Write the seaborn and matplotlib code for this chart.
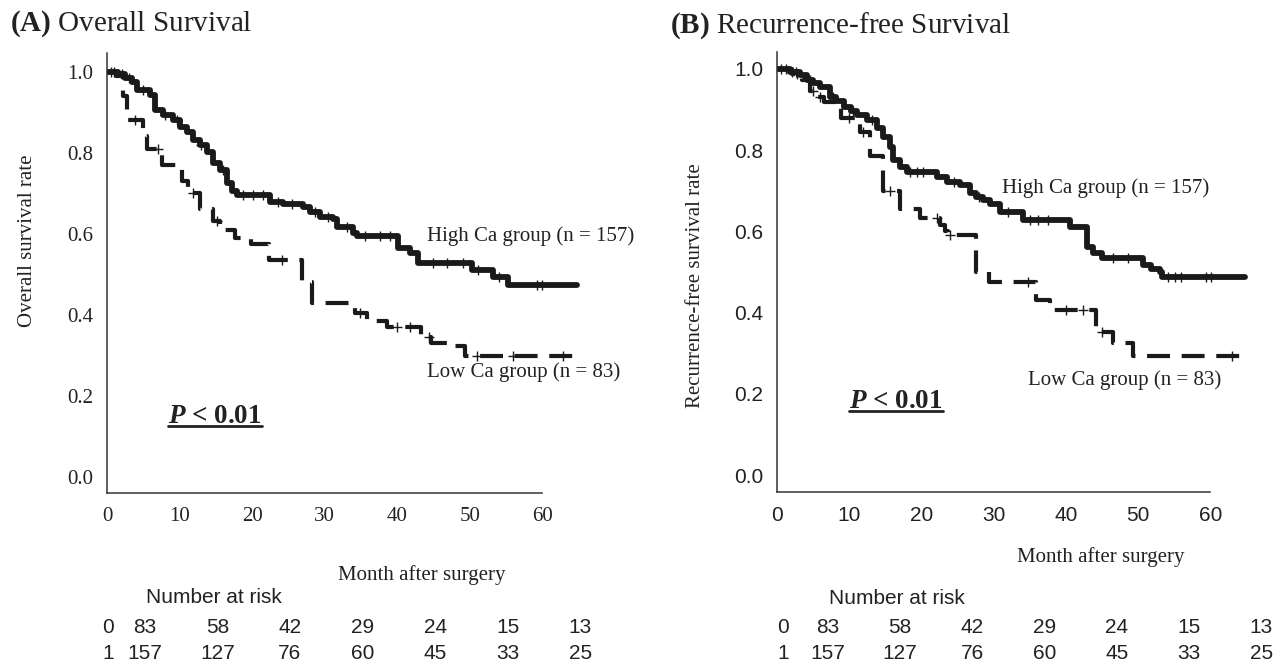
"""
Kaplan-Meier curves: overall and recurrence-free survival by Ca group
"""
import matplotlib
matplotlib.use('Agg')
import matplotlib.pyplot as plt
import matplotlib.transforms as mtransforms
from matplotlib.lines import Line2D
import seaborn as sns
import numpy as np

# ---- data ----
months = [0, 10, 20, 30, 40, 50, 60]
risk_low = [83, 58, 42, 29, 24, 15, 13]
risk_high = [157, 127, 76, 60, 45, 33, 25]

# (A) overall survival
os_high_t = [0, 1.5, 2.5, 3.5, 4.1, 5.9, 6.6, 7.7, 9.1, 10.1, 11.0, 11.8, 12.8, 13.8, 14.6,
             15.6, 16.5, 17.2, 17.9, 22.5, 24.3, 27.0, 28.0, 29.3, 31.1, 31.7, 33.9, 34.4,
             40.1, 41.7, 42.8, 50.3, 53.2, 55.2]
os_high_s = [1.0, 0.993, 0.985, 0.975, 0.955, 0.943, 0.906, 0.894, 0.881, 0.862, 0.852, 0.832,
             0.82, 0.802, 0.775, 0.758, 0.726, 0.705, 0.696, 0.679, 0.672, 0.667, 0.654, 0.642,
             0.635, 0.617, 0.602, 0.593, 0.565, 0.553, 0.528, 0.511, 0.494, 0.474]
os_high_cens = [0.5, 1.0, 2.0, 3.0, 5.0, 8.0, 9.7, 13.0, 16.0, 18.7, 20.1, 21.5, 23.5, 25.5,
                28.6, 30.5, 33.0, 35.5, 37.6, 39.0, 44.9, 46.8, 49.0, 51.1, 54.0, 59.2, 60.0]

os_low_t = [0, 1.2, 2.2, 2.8, 4.9, 5.5, 7.6, 10.3, 11.2, 12.8, 14.6, 15.6, 17.6, 19.8, 22.3,
            26.9, 28.2, 34.2, 35.8, 38.6, 43.3, 44.7, 47.0, 49.3]
os_low_s = [1.0, 0.988, 0.94, 0.88, 0.84, 0.81, 0.77, 0.73, 0.70, 0.66, 0.63, 0.61, 0.59,
            0.575, 0.535, 0.48, 0.43, 0.405, 0.385, 0.37, 0.345, 0.33, 0.322, 0.298]
os_low_cens = [3.9, 7.0, 11.9, 15.1, 24.1, 34.8, 40.0, 41.7, 44.4, 51.0, 55.9, 62.8]
os_end = 64.7

# (B) recurrence-free survival
rfs_high_t = [0, 1.8, 3.2, 4.1, 5.0, 6.0, 7.3, 8.2, 9.2, 10.2, 11.1, 12.5, 13.9, 14.6, 15.7,
              16.1, 17.0, 18.0, 22.2, 23.5, 25.3, 26.7, 27.5, 28.5, 29.5, 30.9, 34.1, 40.6,
              42.9, 43.8, 45.0, 50.7, 51.8, 53.0, 53.3]
rfs_high_s = [1.0, 0.993, 0.985, 0.973, 0.965, 0.956, 0.931, 0.92, 0.906, 0.896, 0.887, 0.874,
              0.855, 0.833, 0.808, 0.776, 0.759, 0.746, 0.734, 0.722, 0.714, 0.695, 0.685,
              0.677, 0.668, 0.648, 0.628, 0.611, 0.562, 0.547, 0.534, 0.517, 0.508, 0.5, 0.488]
rfs_high_cens = [0.5, 1.2, 2.0, 2.6, 4.5, 7.8, 10.5, 13.2, 18.4, 19.4, 20.2, 24.5, 28.0, 32.0,
                 35.0, 36.2, 37.5, 46.5, 48.6, 54.2, 55.1, 56.0, 59.4, 60.1]

rfs_low_t = [0, 2.0, 3.5, 4.5, 5.5, 6.5, 8.8, 11.5, 12.9, 14.7, 17.0, 19.8, 22.6, 23.2, 23.7,
             27.5, 29.3, 35.8, 37.8, 44.1, 46.5, 49.3]
rfs_low_s = [1.0, 0.988, 0.973, 0.945, 0.93, 0.918, 0.88, 0.845, 0.785, 0.70, 0.655, 0.633,
             0.615, 0.60, 0.591, 0.50, 0.475, 0.43, 0.406, 0.352, 0.325, 0.293]
rfs_low_cens = [2.8, 5.0, 6.0, 10.0, 11.9, 15.6, 22.2, 24.0, 34.8, 40.0, 42.4, 45.0, 63.0]
rfs_end = 64.8

# ---- style ----
sns.set_style('white')
SERIF = ['Liberation Serif', 'DejaVu Serif']
SANS = ['Liberation Sans', 'DejaVu Sans']
plt.rcParams['font.family'] = SERIF
plt.rcParams['mathtext.fontset'] = 'custom'
plt.rcParams['mathtext.rm'] = 'Liberation Serif'
plt.rcParams['mathtext.bf'] = 'Liberation Serif:bold'
plt.rcParams['mathtext.it'] = 'Liberation Serif:italic'
plt.rcParams['mathtext.bfit'] = 'Liberation Serif:italic:bold'

INK = '#1a1a1a'
TXT = '#222222'


def surv_at(t, s, c):
    """Survival value of a step curve at censoring times c."""
    idx = np.searchsorted(t, c, side='right') - 1
    return np.asarray(s)[idx]


def draw_km(ax, t, s, end, cens, lw, ls):
    x = list(t) + [end]
    y = list(s) + [s[-1]]
    sns.lineplot(x=x, y=y, ax=ax, drawstyle='steps-post', estimator=None, sort=False,
                 color=INK, linewidth=lw, linestyle=ls, legend=False, zorder=2)
    line = ax.get_lines()[-1]
    line.set_dash_capstyle('butt')
    line.set_solid_capstyle('round')
    sns.scatterplot(x=cens, y=surv_at(t, s, cens), ax=ax, marker='+', s=55,
                    color=INK, linewidth=1.0, legend=False, zorder=3)


def style_axes(ax, tick_family, tick_size):
    ax.set_xlim(0, 66)
    ax.set_xticks(months)
    ax.set_yticks([0.0, 0.2, 0.4, 0.6, 0.8, 1.0])
    ax.set_yticklabels(['0.0', '0.2', '0.4', '0.6', '0.8', '1.0'])
    sns.despine(ax=ax)
    ax.spines['bottom'].set_bounds(0, 60)
    for sp in ('left', 'bottom'):
        ax.spines[sp].set_linewidth(1.1)
        ax.spines[sp].set_color('#333333')
    ax.tick_params(axis='both', direction='out', length=5, width=1.0, color='#333333',
                   labelsize=tick_size, labelcolor=TXT, pad=5)
    for lab in ax.get_xticklabels() + ax.get_yticklabels():
        lab.set_family(tick_family)
    ax.set_xlabel('')


def risk_table(ax, offset, label_x, ys):
    tr = mtransforms.blended_transform_factory(ax.transData, ax.transAxes)
    ax.text(months[1] + offset - 0.5, ys[0], 'Number at risk', transform=tr, ha='center',
            va='center', fontsize=15, family=SANS, color=TXT)
    for row, (lab, vals) in enumerate([('0', risk_low), ('1', risk_high)]):
        y = ys[row + 1]
        ax.text(label_x, y, lab, transform=tr, ha='center', va='center', fontsize=15,
                family=SANS, color=TXT)
        for m, v in zip(months, vals):
            ax.text(m + offset, y, str(v), transform=tr, ha='center', va='center',
                    fontsize=15, family=SANS, color=TXT)


fig = plt.figure(figsize=(12.74, 6.65), dpi=100)
axA = fig.add_axes([0.084, 0.259, 0.376, 0.662])
axB = fig.add_axes([0.610, 0.260, 0.374, 0.662])

# (A)
draw_km(axA, os_high_t, os_high_s, os_end, os_high_cens, 4.2, '-')
draw_km(axA, os_low_t, os_low_s, os_end, os_low_cens, 3.0, (0, (5.5, 2.8)))
axA.set_ylim(-0.0395, 1.047)
style_axes(axA, SERIF, 15)
axA.set_ylabel('Overall survival rate', fontsize=15, color=TXT)
axA.yaxis.set_label_coords(-0.146, 0.573)
axA.text(44.1, 0.593, 'High Ca group (n = 157)', fontsize=15, va='center', color=TXT)
axA.text(44.1, 0.259, 'Low Ca group (n = 83)', fontsize=15, va='center', color=TXT)
pA = axA.text(14.9, 0.148, r'$\mathbfit{P}$ < 0.01', fontsize=19.5, fontweight='bold',
              ha='center', va='center', color=TXT)
axA.text(0.658, -0.186, 'Month after surgery', transform=axA.transAxes, fontsize=15,
         ha='center', va='center', color=TXT)
risk_table(axA, 5.2, 0.1, [-0.239, -0.305, -0.364])

# (B)
draw_km(axB, rfs_high_t, rfs_high_s, rfs_end, rfs_high_cens, 4.2, '-')
draw_km(axB, rfs_low_t, rfs_low_s, rfs_end, rfs_low_cens, 3.0, (0, (5.5, 2.8)))
axB.set_ylim(-0.042, 1.042)
style_axes(axB, SANS, 15)
axB.set_ylabel('Recurrence-free survival rate', fontsize=15, color=TXT)
axB.yaxis.set_label_coords(-0.151, 0.47)
axB.text(31.2, 0.707, 'High Ca group (n = 157)', fontsize=15, va='center', color=TXT)
axB.text(34.8, 0.234, 'Low Ca group (n = 83)', fontsize=15, va='center', color=TXT)
pB = axB.text(16.5, 0.18, r'$\mathbfit{P}$ < 0.01', fontsize=19.5, fontweight='bold',
              ha='center', va='center', color=TXT)
axB.text(0.679, -0.148, 'Month after surgery', transform=axB.transAxes, fontsize=15,
         ha='center', va='center', color=TXT)
risk_table(axB, 7.05, 0.83, [-0.241, -0.307, -0.366])

# panel titles
fig.text(0.008, 0.965, r'$\mathbf{(A)}$ Overall Survival', fontsize=21, va='center', color=TXT)
fig.text(0.526, 0.962, r'$\mathbf{(B)}$ Recurrence-free Survival', fontsize=21, va='center',
         color=TXT)

# underline the P values, just below the baseline
fig.canvas.draw()
inv = fig.transFigure.inverted()
for ptxt in (pA, pB):
    bb = ptxt.get_window_extent()
    (x0, y0), (x1, _) = inv.transform([(bb.x0, bb.y0 + 3), (bb.x1, bb.y0)])
    fig.add_artist(Line2D([x0, x1], [y0, y0], transform=fig.transFigure, color=TXT, lw=2.0))

plt.savefig('out.png', dpi=100)
plt.close()
